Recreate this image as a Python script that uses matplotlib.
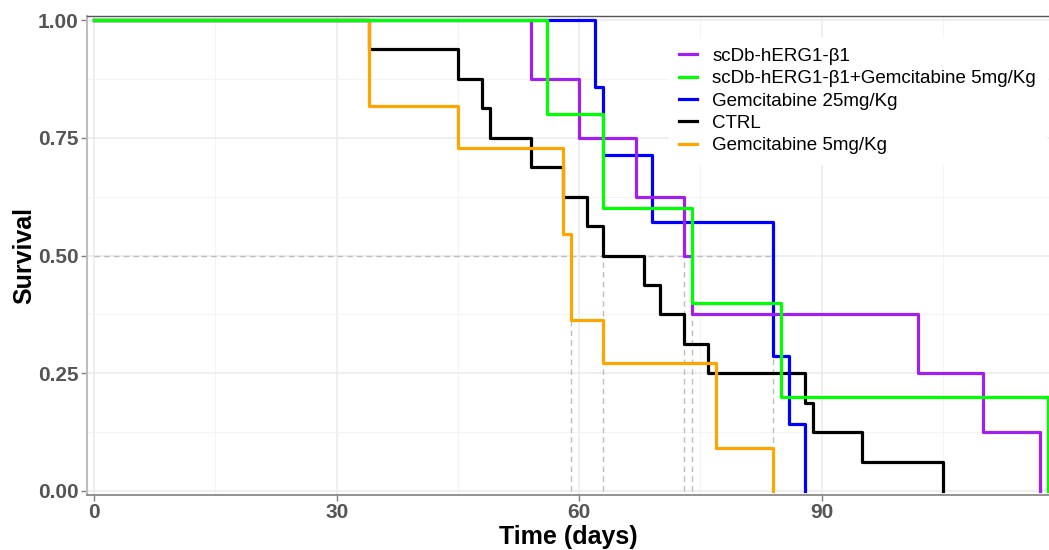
import matplotlib.pyplot as plt

plt.rcParams['font.family'] = ['Liberation Sans', 'DejaVu Sans']

# Kaplan-Meier step data: event times and survival after each drop
labels = ['scDb-hERG1-\u03b21', 'scDb-hERG1-\u03b21+Gemcitabine 5mg/Kg',
          'Gemcitabine 25mg/Kg', 'CTRL', 'Gemcitabine 5mg/Kg']
colors = ['#A020F0', '#00FF00', '#0000FF', '#000000', '#FFA500']

purple_t = [54, 60, 67, 73, 74, 102, 110, 117]
purple_s = [0.875, 0.75, 0.625, 0.5, 0.375, 0.25, 0.125, 0.0]

green_t = [56, 63, 74, 85, 118]
green_s = [0.8, 0.6, 0.4, 0.2, 0.0]

blue_t = [62, 63, 69, 84, 86, 88]
blue_s = [6/7, 5/7, 4/7, 2/7, 1/7, 0.0]

ctrl_t = [34, 45, 48, 49, 54, 58, 61, 63, 68, 70, 73, 76, 88, 89, 95, 105]
ctrl_s = [15/16, 14/16, 13/16, 12/16, 11/16, 10/16, 9/16, 8/16, 7/16, 6/16,
          5/16, 4/16, 3/16, 2/16, 1/16, 0.0]

orange_t = [34, 45, 58, 59, 63, 77, 84]
orange_s = [9/11, 8/11, 6/11, 4/11, 3/11, 1/11, 0.0]

# median survival times
medians = [59, 63, 73, 74, 84]

series = [(purple_t, purple_s), (green_t, green_s), (blue_t, blue_s),
          (ctrl_t, ctrl_s), (orange_t, orange_s)]
draw_order = [3, 2, 4, 0, 1]

fig = plt.figure(figsize=(10.49, 5.5), dpi=100)
ax = fig.add_axes([87/1049, 55/550, 1 - 87/1049, (495-16)/550])

# median reference lines
ax.plot([0, max(medians)], [0.5, 0.5], color='#bdbdbd', lw=1, ls=(0, (4, 3)), zorder=2)
for m in medians:
    ax.plot([m, m], [0, 0.5], color='#bdbdbd', lw=1, ls=(0, (4, 3)), zorder=2)

handles = {}
for i in draw_order:
    t, s = series[i]
    xs = [0] + t
    ys = [1.0] + s
    h, = ax.step(xs, ys, where='post', color=colors[i], lw=2.3, label=labels[i],
                 zorder=3 + draw_order.index(i), clip_on=False)
    handles[i] = h

ax.set_xlim(-0.9, 118.15)
ax.set_ylim(-0.0085, 1.0085)
ax.set_xticks([0, 30, 60, 90])
ax.set_xticks([15, 45, 75, 105], minor=True)
ax.set_yticks([0, 0.25, 0.5, 0.75, 1.0])
ax.set_yticklabels(['0.00', '0.25', '0.50', '0.75', '1.00'])
ax.set_yticks([0.125, 0.375, 0.625, 0.875], minor=True)
ax.grid(True, which='major', color='#ebebeb', lw=1.1, zorder=0)
ax.grid(True, which='minor', color='#f4f4f4', lw=0.8, zorder=0)
ax.set_axisbelow(True)

ax.tick_params(which='major', length=4, width=1, color='#7f7f7f', labelcolor='#555555',
               labelsize=15, pad=2)
ax.tick_params(which='minor', length=0)
for lab in ax.get_xticklabels() + ax.get_yticklabels():
    lab.set_fontweight('bold')

ax.spines['right'].set_visible(False)
ax.spines['left'].set_color('#bdbdbd')
ax.spines['left'].set_linewidth(1.5)
ax.spines['bottom'].set_color('#7f7f7f')
ax.spines['bottom'].set_linewidth(1.2)
ax.spines['top'].set_color('#555555')
ax.spines['top'].set_linewidth(1.0)

ax.set_xlabel('Time (days)', fontsize=18, fontweight='bold', labelpad=2)
ax.set_ylabel('Survival', fontsize=18, fontweight='bold', labelpad=1)

leg = ax.legend([handles[i] for i in range(5)], labels, loc='upper left',
                bbox_to_anchor=(0.5956, 0.973), frameon=True, fontsize=13.5,
                handlelength=1.0, handletextpad=0.8, labelspacing=0.28,
                borderpad=0.5, fancybox=False)
leg.get_frame().set_edgecolor('white')
leg.get_frame().set_facecolor('white')
leg.get_frame().set_alpha(1)
leg.set_zorder(10)

fig.savefig('out.png', dpi=100)
